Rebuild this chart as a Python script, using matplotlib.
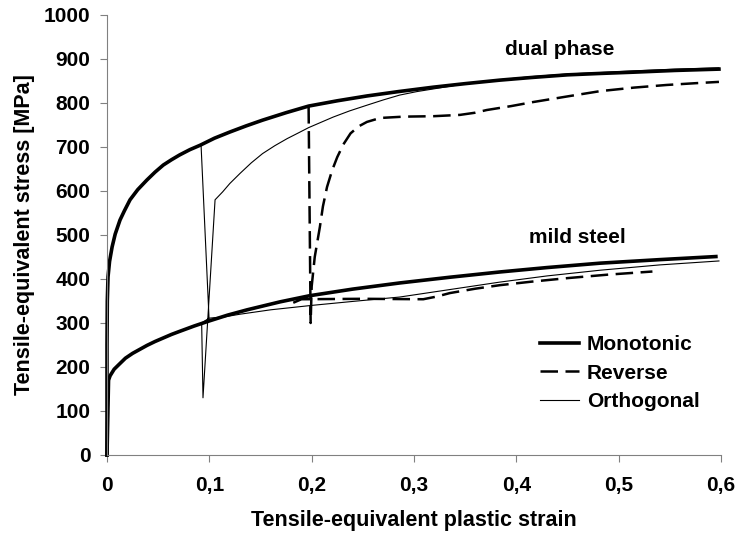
import matplotlib
matplotlib.use('Agg')
import matplotlib.pyplot as plt

plt.rcParams['font.family'] = ['Liberation Sans', 'DejaVu Sans']
plt.rcParams['font.weight'] = 'bold'

# dual phase
dp_mono_x = [0, 0, 0.0003, 0.001, 0.0025, 0.005, 0.008, 0.0127, 0.017, 0.0225, 0.03,
             0.039, 0.047, 0.055, 0.063, 0.071, 0.081, 0.091, 0.105, 0.12, 0.136,
             0.152, 0.175, 0.197, 0.225, 0.254, 0.285, 0.319, 0.35, 0.384, 0.415,
             0.45, 0.48, 0.514, 0.555, 0.598]
dp_mono_y = [0, 250, 350, 405, 440, 473, 502, 534, 555, 580, 603,
             625, 643, 659, 671, 682, 694, 704, 720, 734, 748,
             761, 778, 793, 805, 816, 826, 836, 844, 852, 858,
             864, 867, 870, 874, 877]

dp_rev_x = [0.197, 0.199, 0.2, 0.203, 0.208, 0.211, 0.215, 0.22, 0.225, 0.231, 0.238,
            0.246, 0.254, 0.267, 0.29, 0.319, 0.345, 0.36, 0.371, 0.395, 0.416,
            0.45, 0.482, 0.515, 0.547, 0.575, 0.598]
dp_rev_y = [793, 300, 383, 450, 518, 565, 609, 647, 677, 706, 731,
            747, 757, 766, 769, 770, 773, 778, 784, 793, 802,
            815, 827, 835, 841, 845, 848]

dp_orth_x = [0.0919, 0.0997, 0.0925, 0.0938, 0.1056, 0.113, 0.12, 0.13, 0.141, 0.152,
             0.164, 0.176, 0.187, 0.197, 0.21, 0.221, 0.237, 0.254, 0.27, 0.286,
             0.303, 0.319, 0.335, 0.35, 0.384, 0.415, 0.45, 0.48, 0.514, 0.555, 0.598]
dp_orth_y = [705, 311, 300, 130, 580, 598, 617, 640, 664, 685,
             703, 719, 732, 744, 757, 768, 782, 795, 807, 818,
             826, 832, 838, 844, 853, 860, 866, 869, 873, 877, 880]

# mild steel
ms_mono_x = [0, 0.0015, 0.003, 0.007, 0.0127, 0.018, 0.025, 0.032, 0.039, 0.047,
             0.055, 0.063, 0.071, 0.085, 0.099, 0.118, 0.137, 0.153, 0.169, 0.198,
             0.24, 0.286, 0.335, 0.384, 0.43, 0.482, 0.54, 0.595]
ms_mono_y = [0, 170, 180, 195, 208, 220, 231, 240, 249, 258,
             266, 274, 281, 293, 304, 318, 330, 339, 348, 362,
             377, 391, 404, 416, 426, 436, 444, 451]

ms_rev_x = [0.182, 0.19, 0.25, 0.309, 0.322, 0.335, 0.36, 0.384, 0.415, 0.45, 0.49, 0.533]
ms_rev_y = [346, 354, 355, 354, 360, 368, 378, 386, 394, 402, 410, 417]

ms_orth_x = [0.0997, 0.115, 0.13, 0.16, 0.2, 0.24, 0.286, 0.335, 0.384, 0.43, 0.482,
             0.54, 0.598]
ms_orth_y = [311, 314, 320, 330, 340, 349, 359, 376, 393, 407, 420, 432, 441]

xticks = [0, 0.1, 0.2, 0.3, 0.4, 0.5, 0.6]
xtick_labels = ['0', '0,1', '0,2', '0,3', '0,4', '0,5', '0,6']
yticks = [0, 100, 200, 300, 400, 500, 600, 700, 800, 900, 1000]

fig = plt.figure(figsize=(7.37, 5.38), dpi=100)
ax = fig.add_axes([107 / 737, 1 - 455 / 538, 614 / 737, 440 / 538])

# orthogonal branches start on the monotonic curves
orth_x = [x for x in dp_mono_x if x < 0.0919] + dp_orth_x
orth_y = [y for x, y in zip(dp_mono_x, dp_mono_y) if x < 0.0919] + dp_orth_y
ms_ox = [x for x in ms_mono_x if x < 0.0997] + ms_orth_x
ms_oy = [y for x, y in zip(ms_mono_x, ms_mono_y) if x < 0.0997] + ms_orth_y

ax.plot(orth_x, orth_y, color='black', lw=0.8, label='Orthogonal', clip_on=False)
ax.plot(ms_ox, ms_oy, color='black', lw=0.8, clip_on=False)
ax.plot(dp_rev_x, dp_rev_y, color='black', lw=1.8, dashes=(7, 3), label='Reverse')
ax.plot(ms_rev_x, ms_rev_y, color='black', lw=1.8, dashes=(7, 3))
ax.plot(dp_mono_x, dp_mono_y, color='black', lw=2.6, label='Monotonic', clip_on=False)
ax.plot(ms_mono_x, ms_mono_y, color='black', lw=2.6, clip_on=False)

ax.text(0.442, 921, 'dual phase', ha='center', va='center', fontsize=15, fontweight='bold')
ax.text(0.46, 495, 'mild steel', ha='center', va='center', fontsize=15, fontweight='bold')

ax.set_xlim(0, 0.6)
ax.set_ylim(0, 1000)
ax.set_xticks(xticks)
ax.set_xticklabels(xtick_labels)
ax.set_yticks(yticks)
for s in ['top', 'right']:
    ax.spines[s].set_visible(False)
for s in ['left', 'bottom']:
    ax.spines[s].set_color('#808080')
    ax.spines[s].set_linewidth(0.8)
ax.tick_params(direction='out', length=5, width=0.8, color='#808080', labelsize=15)
ax.tick_params(axis='x', pad=10)
ax.tick_params(axis='y', pad=7)
for lab in ax.get_xticklabels() + ax.get_yticklabels():
    lab.set_fontweight('bold')

ax.set_xlabel('Tensile-equivalent plastic strain', fontsize=15.5, fontweight='bold', labelpad=11)
ax.set_ylabel('Tensile-equivalent stress [MPa]', fontsize=15.5, fontweight='bold', labelpad=6)

h, l = ax.get_legend_handles_labels()
order = [2, 1, 0]
ax.legend([h[i] for i in order], [l[i] for i in order], frameon=False,
          loc='center left', bbox_to_anchor=(0.705, 0.186),
          prop={'weight': 'bold', 'size': 15}, handlelength=1.9, handletextpad=0.35,
          labelspacing=0.45, borderpad=0, borderaxespad=0)

fig.savefig('out.png', dpi=100)
